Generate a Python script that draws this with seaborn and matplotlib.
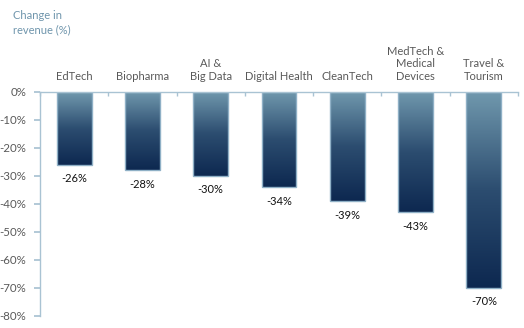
import numpy as np
import pandas as pd
import matplotlib
matplotlib.use("Agg")
import matplotlib.pyplot as plt
import seaborn as sns
from matplotlib.colors import LinearSegmentedColormap
from matplotlib.ticker import FuncFormatter, MultipleLocator

categories = ["EdTech", "Biopharma", "AI &\nBig Data", "Digital Health", "CleanTech",
              "MedTech &\nMedical\nDevices", "Travel &\nTourism"]
values = [-26, -28, -30, -34, -39, -43, -70]
value_labels = ["-26%", "-28%", "-30%", "-34%", "-39%", "-43%", "-70%"]
title_text = "Change in\nrevenue (%)"

sns.set_theme(style="white")
plt.rcParams["font.family"] = ["Lato", "DejaVu Sans"]

axis_col = "#a9c3d3"
text_col = "#595959"
top_col = "#7199ae"
bot_col = "#0d2850"

fig = plt.figure(figsize=(5.24, 3.28), dpi=100)
ax = fig.add_axes([40/524, 1-316/328, (518-40)/524, (316-92)/328])

df = pd.DataFrame({"cat": categories, "val": values})
sns.barplot(data=df, x="cat", y="val", ax=ax, width=0.51, color=bot_col,
            edgecolor="#8fb0c6", linewidth=1.0, saturation=1)

cmap = LinearSegmentedColormap.from_list("g", [bot_col, "#2c4d70", top_col])
grad = np.linspace(0, 1, 256).reshape(-1, 1)
for p in ax.patches:
    x0, y0 = p.get_x(), p.get_y()
    w, h = p.get_width(), p.get_height()
    ymin, ymax = min(y0, y0 + h), max(y0, y0 + h)
    im = ax.imshow(grad, extent=[x0, x0 + w, ymin, ymax], origin="lower",
                   cmap=cmap, aspect="auto", zorder=p.get_zorder() + 0.1)
    im.set_clip_path(p)
    p.set_facecolor("none")
    p.set_zorder(p.get_zorder() + 0.2)
ax.set_xlim(-0.5, len(categories) - 0.5)
ax.set_ylim(-80, 0)

for i, (v, lab) in enumerate(zip(values, value_labels)):
    ax.annotate(lab, (i, v), xytext=(0, -6), textcoords="offset points",
                ha="center", va="top", fontsize=8, color="#111111")
    ax.annotate(categories[i], (i, 0), xytext=(0, 7), textcoords="offset points",
                ha="center", va="bottom", fontsize=8, color=text_col,
                multialignment="center", linespacing=1.2)

ax.set_xlabel("")
ax.set_ylabel("")
ax.set_xticks([])
ax.set_xticks(np.arange(-0.5, len(categories)), minor=True)
ax.tick_params(axis="x", which="minor", direction="in", length=3, color=axis_col,
               bottom=False, top=True, labeltop=False)
ax.yaxis.set_major_locator(MultipleLocator(10))
ax.yaxis.set_major_formatter(FuncFormatter(lambda v, _: f"{int(round(v))}%"))
ax.tick_params(axis="y", direction="out", length=4, color=axis_col, labelsize=8.3,
               labelcolor=text_col, left=True, pad=6)

for s in ["right", "bottom"]:
    ax.spines[s].set_visible(False)
ax.spines["left"].set_color(axis_col)
ax.spines["top"].set_color(axis_col)
ax.spines["left"].set_linewidth(1)
ax.spines["top"].set_linewidth(1)

fig.text(13/524, 1-10/328, title_text, ha="left", va="top", fontsize=8,
         color="#6f95ac", linespacing=1.4)

fig.savefig("out.png", dpi=100)
